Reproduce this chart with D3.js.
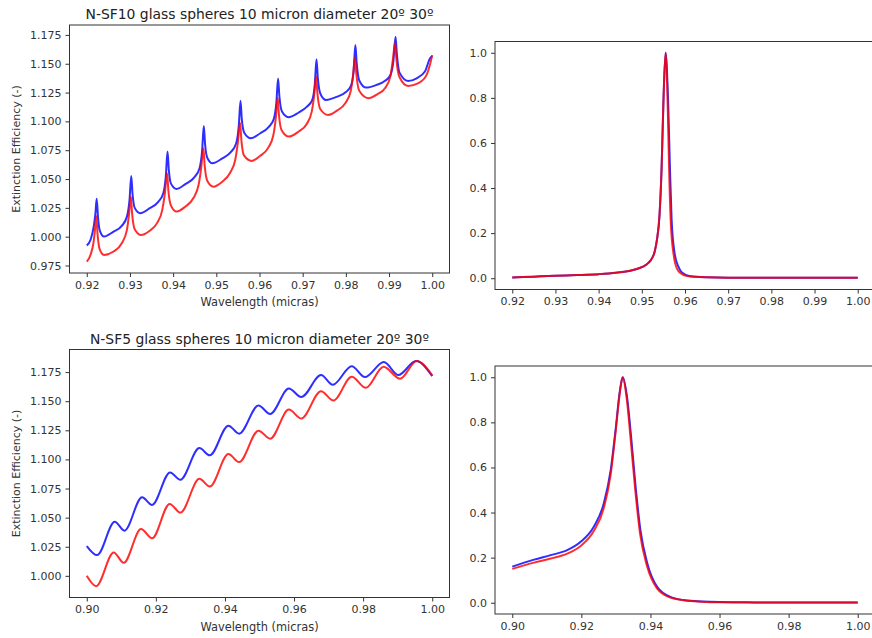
<!DOCTYPE html>
<html>
<head>
<meta charset="utf-8">
<script src="https://cdn.jsdelivr.net/npm/d3@7"></script>
<style>
  body { margin: 0; background: #fff; }
  svg { display: block; font-family: "DejaVu Sans", sans-serif; }
</style>
</head>
<body>
<svg width="872" height="638"></svg>
<script>
// ---- data ----

// N-SF10, extinction efficiency, blue (20º) and red (30º)
const sf10BlueX = [0.9200,0.9209,0.9216,0.9220,0.9223,0.9226,0.9230,0.9240,
  0.9262,0.9281,0.9293,0.9299,0.9303,0.9306,0.9311,0.9324,
  0.9345,0.9365,0.9377,0.9383,0.9387,0.9390,0.9395,0.9408,
  0.9429,0.9449,0.9461,0.9467,0.9471,0.9474,0.9479,0.9491,
  0.9514,0.9534,0.9546,0.9552,0.9556,0.9559,0.9565,0.9580,
  0.9601,0.9621,0.9633,0.9639,0.9643,0.9646,0.9652,0.9667,
  0.9690,0.9710,0.9722,0.9728,0.9732,0.9735,0.9741,0.9754,
  0.9780,0.9800,0.9812,0.9818,0.9822,0.9825,0.9831,0.9847,
  0.9870,0.9890,0.9903,0.9910,0.9915,0.9918,0.9924,0.9944,
  0.9964,0.9983,0.9995,1.0000];
const sf10BlueY = [0.9923,0.9975,1.0087,1.0200,1.0328,1.0170,1.0055,1.0001,
  1.0044,1.0093,1.0174,1.0320,1.0527,1.0370,1.0250,1.0204,
  1.0245,1.0300,1.0375,1.0520,1.0738,1.0580,1.0460,1.0414,
  1.0458,1.0515,1.0592,1.0740,1.0961,1.0800,1.0685,1.0637,
  1.0680,1.0735,1.0810,1.0960,1.1178,1.1020,1.0900,1.0854,
  1.0895,1.0950,1.1020,1.1160,1.1371,1.1220,1.1085,1.1036,
  1.1075,1.1128,1.1185,1.1320,1.1539,1.1380,1.1240,1.1186,
  1.1215,1.1255,1.1310,1.1440,1.1663,1.1510,1.1355,1.1293,
  1.1315,1.1350,1.1400,1.1520,1.1735,1.1590,1.1425,1.1351,
  1.1374,1.1432,1.1548,1.1568];

const sf10RedX = [0.9200,0.9209,0.9216,0.9219,0.9222,0.9225,0.9230,0.9240,
  0.9262,0.9281,0.9293,0.9298,0.9302,0.9305,0.9311,0.9326,
  0.9345,0.9363,0.9375,0.9381,0.9386,0.9389,0.9395,0.9408,
  0.9428,0.9447,0.9459,0.9465,0.9470,0.9473,0.9479,0.9493,
  0.9513,0.9532,0.9544,0.9550,0.9555,0.9558,0.9564,0.9582,
  0.9601,0.9620,0.9632,0.9638,0.9642,0.9645,0.9651,0.9668,
  0.9690,0.9709,0.9721,0.9727,0.9731,0.9734,0.9741,0.9759,
  0.9780,0.9799,0.9811,0.9817,0.9821,0.9824,0.9831,0.9852,
  0.9873,0.9891,0.9903,0.9909,0.9914,0.9917,0.9924,0.9944,
  0.9968,0.9987,0.9996,1.0000];
const sf10RedY = [0.9784,0.9845,0.9960,1.0060,1.0180,1.0020,0.9890,0.9842,
  0.9871,0.9943,1.0059,1.0200,1.0348,1.0200,1.0065,1.0015,
  1.0050,1.0120,1.0235,1.0380,1.0550,1.0400,1.0270,1.0218,
  1.0260,1.0335,1.0450,1.0600,1.0767,1.0620,1.0485,1.0434,
  1.0475,1.0555,1.0670,1.0820,1.0989,1.0840,1.0705,1.0657,
  1.0700,1.0770,1.0880,1.1040,1.1206,1.1060,1.0925,1.0868,
  1.0910,1.0975,1.1085,1.1240,1.1394,1.1250,1.1105,1.1056,
  1.1095,1.1160,1.1260,1.1410,1.1557,1.1420,1.1265,1.1201,
  1.1235,1.1290,1.1390,1.1540,1.1683,1.1540,1.1385,1.1308,
  1.1331,1.1403,1.1510,1.1575];

// N-SF10, normalised single resonance
const sf10NormBlueX = [0.920,0.925,0.930,0.935,0.940,0.944,0.947,0.949,0.951,0.952,0.953,
  0.9535,0.9541,0.9546,0.9550,0.9555,0.9561,0.9565,0.9569,0.9576,0.9585,0.9593,
  0.9610,0.9650,0.9700,0.9800,0.9900,1.0000];
const sf10NormBlueY = [0.003,0.007,0.011,0.014,0.018,0.024,0.032,0.042,0.060,0.078,0.120,
  0.170,0.280,0.500,0.780,1.000,0.780,0.500,0.260,0.110,0.050,0.025,
  0.010,0.004,0.002,0.002,0.002,0.002];
const sf10NormRedX = [0.920,0.925,0.930,0.935,0.940,0.944,0.947,0.949,0.951,0.952,0.953,
  0.9535,0.9541,0.9546,0.9550,0.9555,0.9560,0.9563,0.9567,0.9574,0.9582,0.9590,
  0.9605,0.9650,0.9700,0.9800,0.9900,1.0000];
const sf10NormRedY = [0.003,0.007,0.011,0.014,0.018,0.024,0.032,0.042,0.060,0.078,0.120,
  0.170,0.280,0.500,0.780,1.000,0.760,0.500,0.250,0.100,0.040,0.022,
  0.010,0.004,0.002,0.002,0.002,0.002];

// N-SF5, extinction efficiency
const sf5BlueX = [0.9000,0.9030,0.9081,0.9109,0.9160,0.9189,0.9241,0.9271,0.9326,0.9356,
  0.9410,0.9441,0.9497,0.9531,0.9585,0.9621,0.9678,0.9712,0.9767,0.9805,
  0.9860,0.9902,0.9953,1.0000];
const sf5BlueY = [1.0256,1.0178,1.0465,1.0388,1.0675,1.0609,1.0888,1.0825,1.1097,1.1035,
  1.1290,1.1221,1.1463,1.1391,1.1609,1.1535,1.1724,1.1641,1.1801,1.1707,
  1.1836,1.1725,1.1845,1.1715];
const sf5RedX = [0.9000,0.9027,0.9078,0.9107,0.9157,0.9189,0.9240,0.9271,0.9326,0.9356,
  0.9410,0.9441,0.9497,0.9531,0.9585,0.9621,0.9678,0.9714,0.9767,0.9808,
  0.9859,0.9907,0.9955,1.0000];
const sf5RedY = [1.0000,0.9911,1.0201,1.0112,1.0402,1.0322,1.0618,1.0543,1.0833,1.0767,
  1.1046,1.0977,1.1247,1.1178,1.1428,1.1351,1.1586,1.1506,1.1710,1.1615,
  1.1796,1.1693,1.1845,1.1721];

// N-SF5, normalised single resonance
const sf5NormBlueX = [0.9000,0.9063,0.9111,0.9159,0.9198,0.9236,0.9265,0.9285,0.9299,0.9312,0.9320,
  0.9332,0.9344,0.9357,0.9371,0.9391,0.9420,0.9459,0.9507,0.9600,0.9700,0.9800,1.0000];
const sf5NormBlueY = [0.160,0.191,0.211,0.233,0.270,0.337,0.441,0.589,0.767,0.945,1.000,
  0.915,0.737,0.515,0.322,0.174,0.069,0.025,0.010,0.003,0.0015,0.001,0.0008];
const sf5NormRedX = [0.9000,0.9063,0.9111,0.9159,0.9198,0.9236,0.9265,0.9285,0.9299,0.9312,0.9319,
  0.9331,0.9343,0.9356,0.9370,0.9390,0.9419,0.9458,0.9506,0.9600,0.9700,0.9800,1.0000];
const sf5NormRedY = [0.150,0.178,0.196,0.218,0.252,0.318,0.420,0.570,0.755,0.940,1.000,
  0.910,0.720,0.500,0.305,0.163,0.064,0.023,0.009,0.002,0.001,0.0005,0.0005];

// tick labels
const ticksX920 = [0.92,0.93,0.94,0.95,0.96,0.97,0.98,0.99,1.00];
const ticksX900 = [0.90,0.92,0.94,0.96,0.98,1.00];
const ticksYsf10 = [0.975,1.000,1.025,1.050,1.075,1.100,1.125,1.150,1.175];
const ticksYsf5 = [1.000,1.025,1.050,1.075,1.100,1.125,1.150,1.175];
const ticksYnorm = [0.0,0.2,0.4,0.6,0.8,1.0];

const titles = ['N-SF10 glass spheres 10 micron diameter 20º 30º',
                'N-SF5 glass spheres 10 micron diameter 20º 30º'];
const xLabelText = 'Wavelength (micras)';
const yLabelText = 'Extinction Efficiency (-)';

// ---- drawing ----
const svg = d3.select('svg');
const W = 380, H = 248;
const blue = 'rgba(0,0,255,0.82)';
const red = 'rgba(255,0,0,0.82)';

const zip = (xs, ys) => xs.map((x, i) => [x, ys[i]]);

function panel(opt) {
  const g = svg.append('g').attr('transform', `translate(${opt.left},${opt.top})`);
  const x = d3.scaleLinear().domain(opt.xDomain).range([0, W]);
  const y = d3.scaleLinear().domain(opt.yDomain).range([H, 0]);

  const gx = g.append('g').attr('transform', `translate(0,${H})`)
    .call(d3.axisBottom(x).tickValues(opt.xTicks).tickFormat(d3.format('.2f')).tickSize(4).tickPadding(4));
  const gy = g.append('g')
    .call(d3.axisLeft(y).tickValues(opt.yTicks).tickFormat(d3.format(opt.yFmt)).tickSize(4).tickPadding(4));
  [gx, gy].forEach(a => {
    a.select('.domain').remove();
    a.selectAll('line').attr('stroke', '#333');
    a.selectAll('text').attr('font-size', 11).attr('fill', '#333')
      .attr('font-family', '"DejaVu Sans", sans-serif');
  });

  const line = d3.line().x(d => x(d[0])).y(d => y(d[1])).curve(d3.curveMonotoneX);
  g.append('path').datum(zip(opt.bx, opt.by))
    .attr('d', line).attr('fill', 'none').attr('stroke', blue).attr('stroke-width', 2);
  g.append('path').datum(zip(opt.rx, opt.ry))
    .attr('d', line).attr('fill', 'none').attr('stroke', red).attr('stroke-width', 2);

  g.append('rect').attr('width', W).attr('height', H)
    .attr('fill', 'none').attr('stroke', '#333').attr('stroke-width', 1);

  if (opt.title) {
    g.append('text').text(opt.title).attr('x', W / 2).attr('y', -6)
      .attr('text-anchor', 'middle').attr('font-size', 13.9).attr('fill', '#222');
    g.append('text').text(xLabelText).attr('x', W / 2).attr('y', H + 33)
      .attr('text-anchor', 'middle').attr('font-size', 11.4).attr('fill', '#333');
    g.append('text').text(yLabelText)
      .attr('transform', `translate(${16 - opt.left},${H / 2}) rotate(-90)`)
      .attr('text-anchor', 'middle').attr('dy', '0.35em').attr('font-size', 11).attr('fill', '#333');
  }
}

panel({left: 69.5, top: 25, xDomain: [0.916, 1.004], yDomain: [0.9685, 1.1836],
  xTicks: ticksX920, yTicks: ticksYsf10, yFmt: '.3f', title: titles[0],
  bx: sf10BlueX, by: sf10BlueY, rx: sf10RedX, ry: sf10RedY});
panel({left: 495, top: 41.5, xDomain: [0.916, 1.004], yDomain: [-0.05, 1.05],
  xTicks: ticksX920, yTicks: ticksYnorm, yFmt: '.1f',
  bx: sf10NormBlueX, by: sf10NormBlueY, rx: sf10NormRedX, ry: sf10NormRedY});
panel({left: 69.5, top: 349.5, xDomain: [0.895, 1.005], yDomain: [0.9814, 1.1944],
  xTicks: ticksX900, yTicks: ticksYsf5, yFmt: '.3f', title: titles[1],
  bx: sf5BlueX, by: sf5BlueY, rx: sf5RedX, ry: sf5RedY});
panel({left: 495, top: 366, xDomain: [0.895, 1.005], yDomain: [-0.05, 1.05],
  xTicks: ticksX900, yTicks: ticksYnorm, yFmt: '.1f',
  bx: sf5NormBlueX, by: sf5NormBlueY, rx: sf5NormRedX, ry: sf5NormRedY});
</script>
</body>
</html>
